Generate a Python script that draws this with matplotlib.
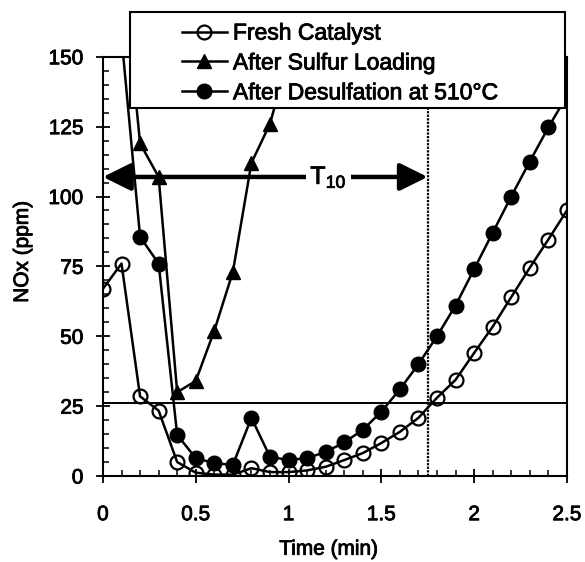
import numpy as np
import matplotlib
matplotlib.use("Agg")
import matplotlib.pyplot as plt
import matplotlib.patheffects as pe
from matplotlib.patches import Rectangle, FancyArrowPatch
from matplotlib.ticker import MultipleLocator

plt.rcParams['font.family'] = ['Liberation Sans', 'DejaVu Sans']
plt.rcParams['mathtext.fontset'] = 'custom'
plt.rcParams['mathtext.rm'] = 'Liberation Sans'
plt.rcParams['mathtext.it'] = 'Liberation Sans'

# time (min) and NOx (ppm)
time_fresh = [0.0, 0.1, 0.2, 0.3, 0.4, 0.5, 0.6, 0.7, 0.8, 0.9, 1.0, 1.1, 1.2,
              1.3, 1.4, 1.5, 1.6, 1.7, 1.8, 1.9, 2.0, 2.1, 2.2, 2.3, 2.4, 2.5]
nox_fresh = [67, 76, 28.5, 23.4, 5, 1.2, 0.5, 0.5, 2.8, 1.4, 1.4, 2, 3.3,
             5.7, 8.2, 11.8, 15.8, 20.8, 28, 34.4, 44, 53.4, 64, 74.5, 84.6, 95]

time_sulfur = [0.1, 0.2, 0.3, 0.4, 0.5, 0.6, 0.7, 0.8, 0.9, 1.0]
nox_sulfur = [187, 119, 107, 30, 34, 52, 73, 112, 126, 150]

time_desulf = [0.1, 0.2, 0.3, 0.4, 0.5, 0.6, 0.7, 0.8, 0.9, 1.0, 1.1, 1.2,
               1.3, 1.4, 1.5, 1.6, 1.7, 1.8, 1.9, 2.0, 2.1, 2.2, 2.3, 2.4, 2.5]
nox_desulf = [157, 85.6, 76, 14.7, 6.4, 4.6, 4, 20.8, 6.9, 5.7, 6.4, 8.6,
              12, 16.5, 23, 31, 40, 50, 61, 74, 87, 100, 112.5, 124.7, 136]

labels = ["Fresh Catalyst", "After Sulfur Loading", "After Desulfation at 510°C"]
x_ticks = [0, 0.5, 1, 1.5, 2, 2.5]
x_ticklabels = ["0", "0.5", "1", "1.5", "2", "2.5"]
y_ticks = [0, 25, 50, 75, 100, 125, 150]

t10_level = 26
t10_time = 1.75
arrow_y = 107

# scanned look: thicken the text a little
heavy = [pe.withStroke(linewidth=0.6, foreground='black')]

fig = plt.figure(figsize=(5.85, 5.62), dpi=100)
ax = fig.add_axes([0.176, 0.153, 0.793, 0.746])

l1, = ax.plot(time_fresh, nox_fresh, color='black', lw=1.8, marker='o', ms=10,
              mfc='none', mec='black', mew=1.6, label=labels[0])
l2, = ax.plot(time_sulfur, nox_sulfur, color='black', lw=1.8, marker='^', ms=10.5,
              mfc='black', mec='black', label=labels[1])
l3, = ax.plot(time_desulf, nox_desulf, color='black', lw=1.8, marker='o', ms=10.5,
              mfc='black', mec='black', label=labels[2])

ax.axhline(t10_level, color='black', lw=1.4, zorder=1)
ax.axvline(t10_time, color='black', lw=1.6, ls=(0, (1, 0.6)), zorder=1)

ax.set_xlim(0, 2.5)
ax.set_ylim(0, 150)
ax.set_xticks(x_ticks)
ax.set_xticklabels(x_ticklabels)
ax.set_yticks(y_ticks)
ax.xaxis.set_minor_locator(MultipleLocator(0.1))
ax.yaxis.set_minor_locator(MultipleLocator(5))
ax.tick_params(which='major', direction='inout', length=10, width=1.3,
               labelsize=15, pad=9)
ax.tick_params(which='minor', direction='in', length=4, width=1.1)
ax.tick_params(axis='x', which='major', pad=16)
for s in ax.spines.values():
    s.set_linewidth(1.5)
for t in ax.get_xticklabels() + ax.get_yticklabels():
    t.set_path_effects(heavy)

ax.set_xlabel("Time (min)", fontsize=15, path_effects=heavy)
ax.set_ylabel("NOx (ppm)", fontsize=15, path_effects=heavy)
ax.xaxis.set_label_coords(0.487, -0.152)
ax.yaxis.set_label_coords(-0.153, 0.535)

# T10 arrow
arr = FancyArrowPatch((0, arrow_y), (t10_time, arrow_y),
                      arrowstyle='<|-|>,head_length=0.85,head_width=0.42',
                      mutation_scale=20, color='black', lw=3.2,
                      shrinkA=0, shrinkB=0, clip_on=False, zorder=3)
ax.add_patch(arr)
ax.text(1.215, arrow_y, r'T$_{10}$', fontsize=18, ha='center', va='center',
        zorder=4, path_effects=heavy, bbox=dict(fc='white', ec='none', pad=3))

# legend box sitting over the top of the plot
box = Rectangle((0.058, 0.878), 0.938, 0.229, transform=ax.transAxes,
                fc='white', ec='black', lw=1.5, clip_on=False, zorder=5)
ax.add_patch(box)
leg = ax.legend(handles=[l1, l2, l3], loc='upper left',
                bbox_to_anchor=(0.170, 1.084), frameon=False, fontsize=16.5,
                borderpad=0, borderaxespad=0, handlelength=1.97,
                handletextpad=0.26, labelspacing=0.3)
leg.set_zorder(6)
for t in leg.get_texts():
    t.set_path_effects(heavy)

fig.savefig("out.png", dpi=100)
